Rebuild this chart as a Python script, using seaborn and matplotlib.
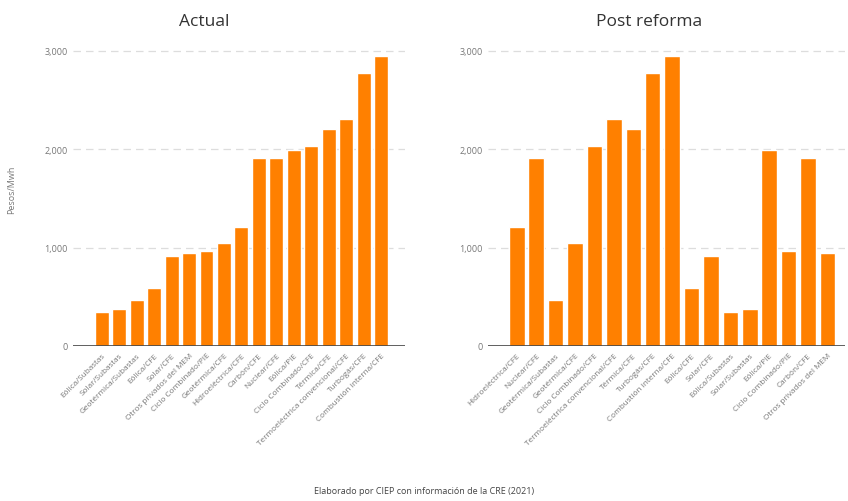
import matplotlib
matplotlib.use("Agg")
import matplotlib.pyplot as plt
import seaborn as sns
import pandas as pd

# Datos - costo por tecnología (Pesos/MWh)
tecnologias_actual = [
    "Eólica/Subastas", "Solar/Subastas", "Geotérmica/Subastas", "Eólica/CFE",
    "Solar/CFE", "Otros privados del MEM", "Ciclo Combinado/PIE", "Geotérmica/CFE",
    "Hidroeléctrica/CFE", "Carbón/CFE", "Nuclear/CFE", "Eólica/PIE",
    "Ciclo Combinado/CFE", "Térmica/CFE", "Termoeléctrica convencional/CFE",
    "Turbogás/CFE", "Combustión interna/CFE",
]
costos_actual = [350, 375, 470, 590, 910, 945, 965, 1050, 1210, 1910, 1910,
                 1995, 2030, 2210, 2310, 2775, 2950]

tecnologias_reforma = [
    "Hidroeléctrica/CFE", "Nuclear/CFE", "Geotérmica/Subastas", "Geotérmica/CFE",
    "Ciclo Combinado/CFE", "Termoeléctrica convencional/CFE", "Térmica/CFE",
    "Turbogás/CFE", "Combustión interna/CFE", "Eólica/CFE", "Solar/CFE",
    "Eólica/Subastas", "Solar/Subastas", "Eólica/PIE", "Ciclo Combinado/PIE",
    "Carbón/CFE", "Otros privados del MEM",
]
costos_reforma = [1210, 1910, 470, 1050, 2030, 2310, 2210, 2775, 2950, 590,
                  910, 350, 375, 1995, 965, 1910, 945]

titulos = ["Actual", "Post reforma"]
yticks = [0, 1000, 2000, 3000]

sns.set_theme(style="white")
plt.rcParams["font.family"] = ["Open Sans", "DejaVu Sans"]

naranja = "#FF8000"
gris_texto = "#777777"

fig = plt.figure(figsize=(8.48, 5.02), dpi=100)
W, H = 848, 502
ax1 = fig.add_axes([73 / W, (H - 347) / H, 332 / W, 307 / H])
ax2 = fig.add_axes([488 / W, (H - 347) / H, 357 / W, 307 / H])

paneles = [
    (ax1, tecnologias_actual, costos_actual, (-1.64, 17.36), 204),
    (ax2, tecnologias_reforma, costos_reforma, (-1.48, 16.9), 649),
]

for (ax, cats, vals, xl, xt), titulo in zip(paneles, titulos):
    df = pd.DataFrame({"tec": cats, "costo": vals})
    sns.barplot(data=df, x="tec", y="costo", order=cats, color=naranja,
                saturation=1, width=0.8, ax=ax)
    ax.set_xlim(*xl)
    ax.set_ylim(0, 3120)
    ax.set_yticks(yticks)
    ax.set_yticklabels([f"{v:,}" for v in yticks], fontsize=6.5, color=gris_texto)
    for v in yticks[1:]:
        ax.axhline(v, color="#dddddd", lw=0.9, ls=(0, (6, 4)), zorder=0)
    ax.axhline(0, color="#444444", lw=1.2, zorder=3)
    for s in ax.spines.values():
        s.set_visible(False)
    ax.tick_params(axis="both", length=0, pad=4)
    ax.set_xticks(range(len(cats)))
    ax.set_xticklabels(cats, rotation=45, ha="right", rotation_mode="anchor",
                       fontsize=5.9, color=gris_texto)
    ax.set_xlabel("")
    ax.set_ylabel("")
    fig.text(xt / W, 1 - 22 / H, titulo, ha="center", va="center",
             fontsize=12.5, color="#333333")

fig.text(12 / W, 1 - 190 / H, "Pesos/Mwh", rotation=90, ha="center",
         va="center", fontsize=6.5, color=gris_texto)
fig.text(0.5, 1 - 492 / H, "Elaborado por CIEP con información de la CRE (2021)",
         ha="center", va="center", fontsize=6.5, color="#444444")

fig.savefig("out.png", dpi=100)
